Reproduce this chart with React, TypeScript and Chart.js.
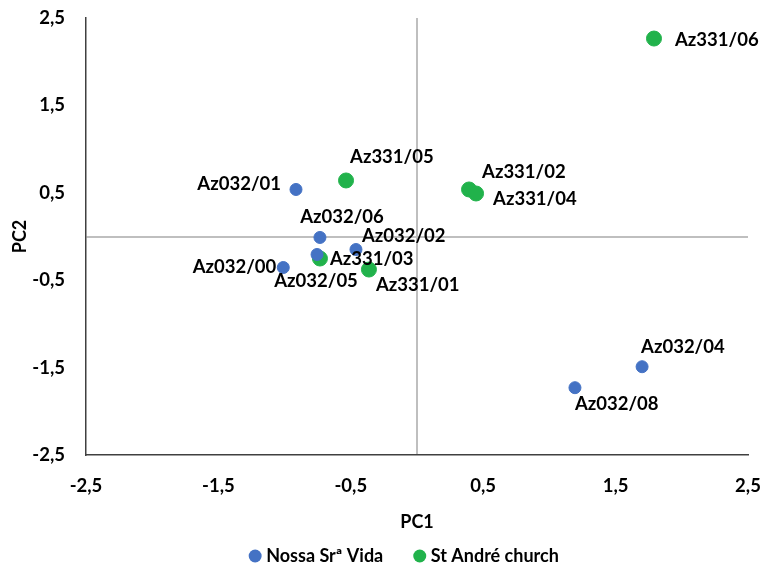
import React, { useEffect, useRef } from "react";
import { Chart, registerables } from "chart.js";

Chart.register(...registerables);

const seriesNames = ["Nossa Srª Vida", "St André church"];

const nossaLabels = ["Az032/00", "Az032/01", "Az032/02", "Az032/04", "Az032/05", "Az032/06", "Az032/08"];
const nossaPC1 = [-1.01, -0.914, -0.461, 1.70, -0.755, -0.733, 1.193];
const nossaPC2 = [-0.355, 0.538, -0.149, -1.49, -0.206, -0.011, -1.73];

const andreLabels = ["Az331/01", "Az331/02", "Az331/03", "Az331/04", "Az331/05", "Az331/06"];
const andrePC1 = [-0.363, 0.393, -0.733, 0.446, -0.536, 1.79];
const andrePC2 = [-0.378, 0.538, -0.252, 0.492, 0.641, 2.265];

const axisTicks = [-2.5, -1.5, -0.5, 0, 0.5, 1.5, 2.5];

// label placement: [align, dx, dy] in pixels relative to point
const nossaLabelPlacement: [CanvasTextAlign, number, number][] = [
  ["right", -7, 0],
  ["right", -15, -5],
  ["left", 6, -13],
  ["left", -1, -20],
  ["center", -1, 27],
  ["center", 22, -20],
  ["left", 0, 16],
];
const andreLabelPlacement: [CanvasTextAlign, number, number][] = [
  ["left", 7, 15],
  ["left", 13, -17],
  ["left", 10, 1],
  ["left", 17, 6],
  ["left", 4, -23],
  ["left", 21, 1],
];

const FONT = "Lato, 'Open Sans', sans-serif";
const BLUE = "#4472c4";
const GREEN = "#21b24b";

const fmt = (v: number) => (v === 0 ? "" : v.toFixed(1).replace(".", ","));

const pointLabelPlugin = {
  id: "pointLabels",
  afterDatasetsDraw(chart: any) {
    const ctx = chart.ctx;
    const allLabels = [nossaLabels, andreLabels];
    const allPlacement = [nossaLabelPlacement, andreLabelPlacement];
    ctx.save();
    ctx.font = `bold 18.5px ${FONT}`;
    ctx.fillStyle = "#000";
    ctx.textBaseline = "middle";
    chart.data.datasets.forEach((_ds: any, di: number) => {
      const meta = chart.getDatasetMeta(di);
      meta.data.forEach((pt: any, i: number) => {
        const [align, dx, dy] = allPlacement[di][i];
        ctx.textAlign = align;
        ctx.fillText(allLabels[di][i], pt.x + dx, pt.y + dy);
      });
    });
    ctx.restore();
  },
};

const legendPlugin = {
  id: "customLegend",
  afterDraw(chart: any) {
    const ctx = chart.ctx;
    ctx.save();
    ctx.font = `bold 18px ${FONT}`;
    ctx.textBaseline = "middle";
    ctx.textAlign = "left";
    const r = 6.5;
    const gapText = 11;
    const gapItem = 30;
    const cy = 556;
    const items = chart.data.datasets.map((ds: any) => ({
      text: ds.label,
      color: ds.backgroundColor,
      w: ctx.measureText(ds.label).width,
    }));
    const total =
      items.reduce((s: number, it: any) => s + r + gapText + it.w, 0) + gapItem * (items.length - 1) + r;
    let x = 407 - total / 2;
    items.forEach((it: any) => {
      ctx.fillStyle = it.color;
      ctx.beginPath();
      ctx.arc(x + r, cy, r, 0, Math.PI * 2);
      ctx.fill();
      ctx.fillStyle = "#000";
      ctx.fillText(it.text, x + r + gapText, cy);
      x += r + gapText + it.w + gapItem;
    });
    ctx.restore();
  },
};

export default function App() {
  const ref = useRef<HTMLCanvasElement>(null);
  useEffect(() => {
    if (!ref.current) return;
    const chart = new Chart(ref.current, {
      type: "scatter",
      data: {
        datasets: [
          {
            label: seriesNames[0],
            data: nossaPC1.map((x, i) => ({ x, y: nossaPC2[i] })),
            backgroundColor: BLUE,
            borderColor: BLUE,
            pointRadius: 6,
            pointHoverRadius: 6,
          },
          {
            label: seriesNames[1],
            data: andrePC1.map((x, i) => ({ x, y: andrePC2[i] })),
            backgroundColor: GREEN,
            borderColor: GREEN,
            pointRadius: 7.5,
            pointHoverRadius: 7.5,
          },
        ],
      },
      options: {
        animation: false,
        responsive: true,
        maintainAspectRatio: false,
        layout: { padding: { left: 0, right: 15, top: 18, bottom: 31 } },
        plugins: {
          tooltip: { enabled: false },
          legend: { display: false },
        },
        scales: {
          x: {
            type: "linear",
            min: -2.5,
            max: 2.5,
            afterBuildTicks: (s: any) => {
              s.ticks = axisTicks.map((v) => ({ value: v }));
            },
            afterFit: (s: any) => {
              s.height = 78;
              s.paddingLeft = 0;
              s.paddingRight = 0;
            },
            ticks: {
              callback: (v: any) => fmt(Number(v)),
              color: "#000",
              font: { family: FONT, size: 18.5, weight: "bold" },
              padding: 20,
              maxRotation: 0,
              autoSkip: false,
            },
            grid: {
              drawTicks: false,
              color: (c: any) => (c.tick && c.tick.value === 0 ? "#bfbfbf" : "transparent"),
              lineWidth: 2,
            },
            border: { display: true, color: "#404040", width: 1.5 },
            title: {
              display: true,
              text: "PC1",
              color: "#000",
              font: { family: FONT, size: 18, weight: "bold" },
              padding: { top: 12, bottom: 0 },
            },
          },
          y: {
            type: "linear",
            min: -2.5,
            max: 2.5,
            afterBuildTicks: (s: any) => {
              s.ticks = axisTicks.map((v) => ({ value: v }));
            },
            afterFit: (s: any) => {
              s.width = 86;
              s.paddingTop = 0;
              s.paddingBottom = 0;
            },
            ticks: {
              callback: (v: any) => fmt(Number(v)),
              color: "#000",
              font: { family: FONT, size: 18.5, weight: "bold" },
              padding: 21,
              autoSkip: false,
            },
            grid: {
              drawTicks: false,
              color: (c: any) => (c.tick && c.tick.value === 0 ? "#bfbfbf" : "transparent"),
              lineWidth: 2,
            },
            border: { display: true, color: "#404040", width: 1.5 },
            title: {
              display: true,
              text: "PC2",
              color: "#000",
              font: { family: FONT, size: 18, weight: "bold" },
              padding: { top: 9, bottom: 0 },
            },
          },
        },
      },
      plugins: [pointLabelPlugin, legendPlugin],
    });
    return () => chart.destroy();
  }, []);
  return (
    <div style={{ position: "fixed", left: 0, top: 0, width: 763, height: 564, background: "#fff" }}>
      <canvas ref={ref} />
    </div>
  );
}
